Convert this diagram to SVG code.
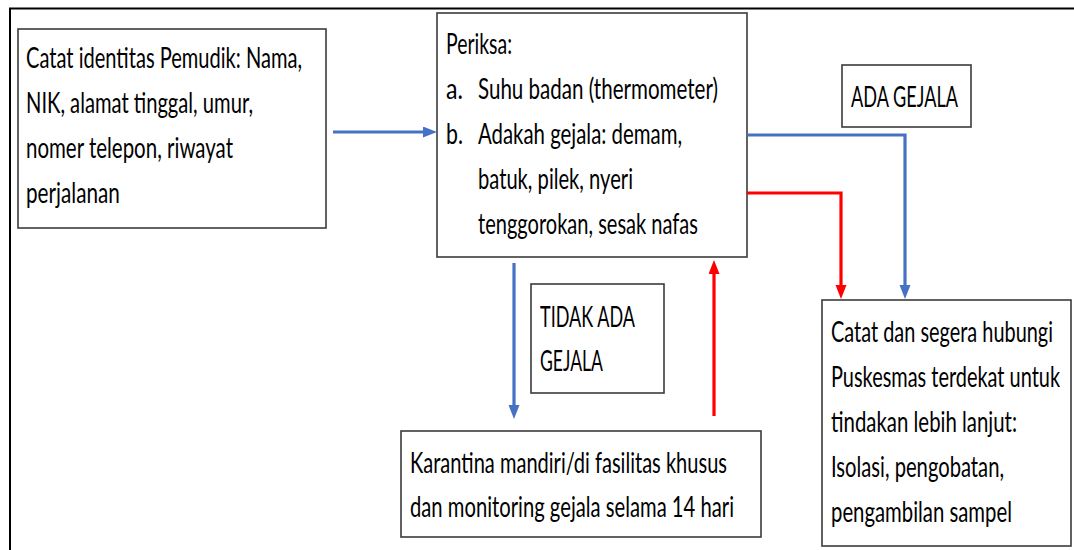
<svg xmlns="http://www.w3.org/2000/svg" width="1074" height="550" viewBox="0 0 1074 550">
<style>
.box{fill:#fff;stroke:#3b3b3b;stroke-width:1.6}
.t{font-family:Lato,"Liberation Sans",sans-serif;font-size:29px;fill:#000}
.cb{fill:none;stroke:#4472C4;stroke-width:3.2}
.cr{fill:none;stroke:#FF0000;stroke-width:3.2}
</style>
<defs>
<marker id="ab" markerUnits="userSpaceOnUse" markerWidth="16" markerHeight="12" refX="2" refY="5.5" orient="auto"><path d="M0,0 L14,5.5 L0,11 z" fill="#4472C4"/></marker>
<marker id="ar" markerUnits="userSpaceOnUse" markerWidth="16" markerHeight="12" refX="2" refY="5.5" orient="auto"><path d="M0,0 L14,5.5 L0,11 z" fill="#FF0000"/></marker>
</defs>
<rect width="1074" height="550" fill="#fff"/>
<g id="frame" fill="none" stroke="#000" stroke-width="2">
<path d="M10,550 V8.5 H1074"/>
</g>
<g id="n-identitas">
<rect class="box" x="18" y="29" width="308" height="199"/>
<text class="t" transform="translate(26,68) scale(0.69,1)" textLength="400" lengthAdjust="spacingAndGlyphs">Catat identitas Pemudik: Nama,</text>
<text class="t" transform="translate(26,113) scale(0.69,1)" textLength="329" lengthAdjust="spacingAndGlyphs">NIK, alamat tinggal, umur,</text>
<text class="t" transform="translate(26,158) scale(0.69,1)" textLength="300" lengthAdjust="spacingAndGlyphs">nomer telepon, riwayat</text>
<text class="t" transform="translate(26,203) scale(0.69,1)" textLength="136" lengthAdjust="spacingAndGlyphs">perjalanan</text>
</g>
<g id="n-periksa">
<rect class="box" x="437" y="13" width="310" height="244"/>
<text class="t" transform="translate(446,54) scale(0.69,1)" textLength="95.7" lengthAdjust="spacingAndGlyphs">Periksa:</text>
<text class="t" transform="translate(446,99) scale(0.69,1)" textLength="24.6" lengthAdjust="spacingAndGlyphs">a.</text>
<text class="t" transform="translate(478,99) scale(0.69,1)" textLength="347.8" lengthAdjust="spacingAndGlyphs">Suhu badan (thermometer)</text>
<text class="t" transform="translate(446,144) scale(0.69,1)" textLength="24.6" lengthAdjust="spacingAndGlyphs">b.</text>
<text class="t" transform="translate(478,144) scale(0.69,1)" textLength="295.7" lengthAdjust="spacingAndGlyphs">Adakah gejala: demam,</text>
<text class="t" transform="translate(478,189) scale(0.69,1)" textLength="224.6" lengthAdjust="spacingAndGlyphs">batuk, pilek, nyeri</text>
<text class="t" transform="translate(478,234) scale(0.69,1)" textLength="318.8" lengthAdjust="spacingAndGlyphs">tenggorokan, sesak nafas</text>
</g>
<g id="n-ada-gejala">
<rect class="box" x="842" y="65" width="129" height="62"/>
<text class="t" transform="translate(851,107) scale(0.69,1)" textLength="155.1" lengthAdjust="spacingAndGlyphs">ADA GEJALA</text>
</g>
<g id="n-tidak-ada-gejala">
<rect class="box" x="531" y="284" width="133" height="109"/>
<text class="t" transform="translate(540,327) scale(0.69,1)" textLength="137.7" lengthAdjust="spacingAndGlyphs">TIDAK ADA</text>
<text class="t" transform="translate(540,371) scale(0.69,1)" textLength="91.3" lengthAdjust="spacingAndGlyphs">GEJALA</text>
</g>
<g id="n-karantina">
<rect class="box" x="401" y="431" width="360" height="106"/>
<text class="t" transform="translate(410,473) scale(0.69,1)" textLength="459.4" lengthAdjust="spacingAndGlyphs">Karantina mandiri/di fasilitas khusus</text>
<text class="t" transform="translate(410,517) scale(0.69,1)" textLength="469.6" lengthAdjust="spacingAndGlyphs">dan monitoring gejala selama 14 hari</text>
</g>
<g id="n-puskesmas">
<rect class="box" x="822" y="300" width="249" height="246"/>
<text class="t" transform="translate(831,342) scale(0.69,1)" textLength="321.7" lengthAdjust="spacingAndGlyphs">Catat dan segera hubungi</text>
<text class="t" transform="translate(831,387) scale(0.69,1)" textLength="331.9" lengthAdjust="spacingAndGlyphs">Puskesmas terdekat untuk</text>
<text class="t" transform="translate(831,432) scale(0.69,1)" textLength="269.6" lengthAdjust="spacingAndGlyphs">tindakan lebih lanjut:</text>
<text class="t" transform="translate(831,477) scale(0.69,1)" textLength="250.7" lengthAdjust="spacingAndGlyphs">Isolasi, pengobatan,</text>
<text class="t" transform="translate(831,522) scale(0.69,1)" textLength="262.3" lengthAdjust="spacingAndGlyphs">pengambilan sampel</text>
</g>
<g id="connectors">
<path class="cb" d="M333,132 H425" marker-end="url(#ab)"/>
<path class="cb" d="M747,135 H905 V287" marker-end="url(#ab)"/>
<path class="cr" d="M747,193 H841 V287" marker-end="url(#ar)"/>
<path class="cb" d="M514,263 V407" marker-end="url(#ab)"/>
<path class="cr" d="M714,416 V272" marker-end="url(#ar)"/>
</g>
</svg>
